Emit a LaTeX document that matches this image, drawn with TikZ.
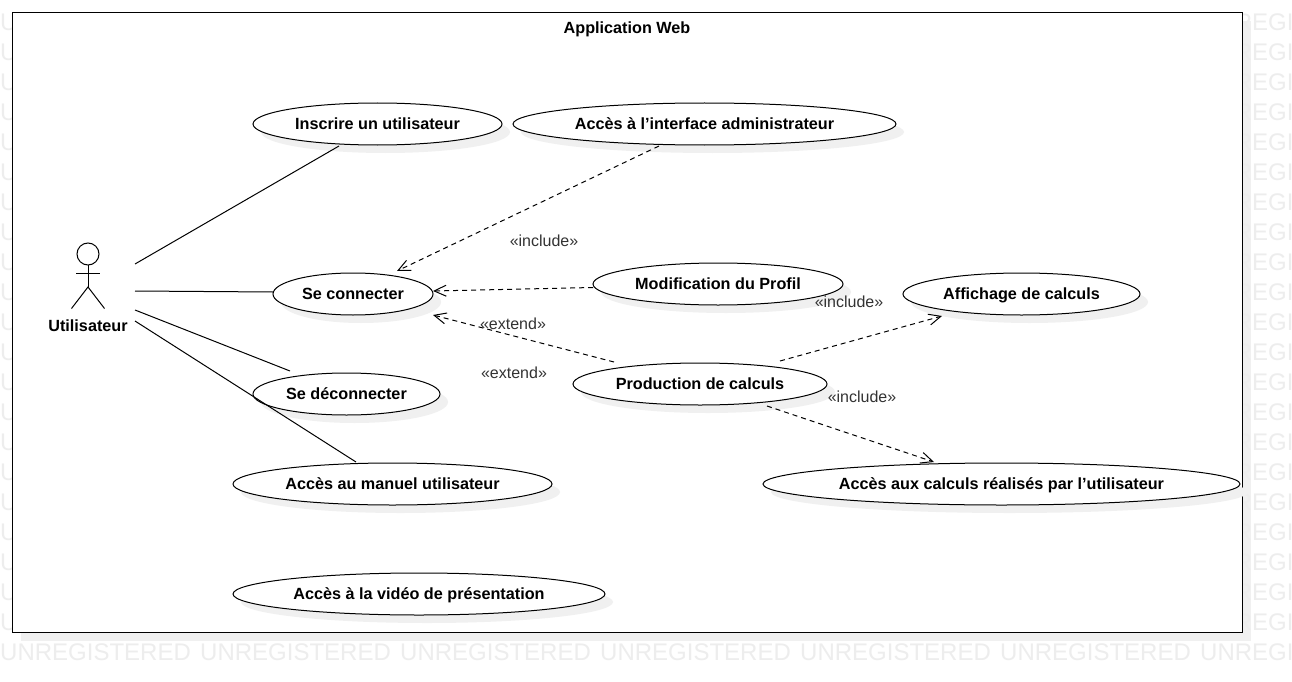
\documentclass[tikz,border=0pt]{standalone}
\usepackage{fontspec}
\setmainfont{Liberation Sans}
\usetikzlibrary{shapes.geometric,arrows.meta,calc}
\definecolor{shade}{HTML}{F0F0F0}
\definecolor{wmark}{HTML}{EDEDED}
\definecolor{lab}{HTML}{333333}
\tikzset{
  x=1pt,y=-1pt,
  wmtext/.style={anchor=base west,inner sep=0pt,text=wmark,font=\fontsize{24}{26}\selectfont},
  frameshadow/.style={fill=shade,draw=none},
  usecase/.style={ellipse,draw=black,line width=1pt,fill=white,inner sep=0pt,
    text height=10pt,text depth=0pt,
    font=\fontsize{16.2}{18}\selectfont\bfseries},
  uecshadow/.style={fill=shade,draw=none},
  assoc/.style={draw=black,line width=1pt},
  dep/.style={draw=black,line width=1pt,dash pattern=on 5pt off 4pt,
    -{Straight Barb[length=12pt,width=11pt,line width=1pt]}},
  tag/.style={text=lab,inner sep=0pt,text height=10pt,text depth=0pt,font=\fontsize{16}{18}\selectfont},
  boldtag/.style={inner sep=0pt,text height=10pt,text depth=0pt,font=\fontsize{16.2}{18}\selectfont\bfseries},
  stick/.style={draw=black,line width=1pt}
}
\newcommand{\usecasenode}[6]{% name, x1, y1, x2, y2, text
  \fill[uecshadow] ({(#2+#4)/2+8},{(#3+#5)/2+8}) ellipse [x radius={(#4-#2)/2},y radius={(#5-#3)/2}];
  \node[usecase,minimum width={(#4-#2)*1pt},minimum height={(#5-#3)*1pt}] (#1) at ({(#2+#4)/2},{(#3+#5)/2}) {#6};
}
\begin{document}
\begin{tikzpicture}
\useasboundingbox (0,0) rectangle (1292,682);
\fill[white] (0,0) rectangle (1292,682);
% frame shadow below the watermark
\fill[frameshadow] (21,21) rectangle (1251,640.7);
% watermark
\begin{scope}
\clip (0,0) rectangle (1292,682);
\foreach \r in {0,...,21} {
  \foreach \c in {0,...,6} {
    \node[wmtext] (wm-\r-\c) at ({\c*200},{30.7+\r*30}) {UNREGISTERED};
  }
}
\end{scope}
% frame
\node[draw=black,line width=1.2pt,fill=white,outer sep=0pt,minimum width=1230.4pt,minimum height=620pt,inner sep=0pt,anchor=north west] (frame) at (12.3,12.3) {};
\node[boldtag] (title) at (627,28.5) {Application Web};
% use cases
\usecasenode{ins}{253}{103}{502}{145}{Inscrire un utilisateur}
\usecasenode{admin}{513}{103}{896}{145}{Accès à l’interface administrateur}
\usecasenode{conn}{273}{273}{433}{315}{Se connecter}
\usecasenode{modif}{593}{263}{843}{305}{Modification du Profil}
\usecasenode{affi}{903}{273}{1140}{315}{Affichage de calculs}
\usecasenode{prod}{573}{363}{827}{405}{Production de calculs}
\usecasenode{deco}{253}{373}{440}{415}{Se déconnecter}
\usecasenode{manuel}{233}{463}{552}{505}{Accès au manuel utilisateur}
\usecasenode{calc}{763}{463}{1240}{505}{Accès aux calculs réalisés par l’utilisateur}
\usecasenode{video}{233}{573}{605}{615}{Accès à la vidéo de présentation}
% actor
\node[boldtag] (actor) at (88,326) {Utilisateur};
\draw[stick] ($(actor.center)+(0,-72)$) circle [radius=11];
\draw[stick] ($(actor.center)+(0,-61)$) -- ($(actor.center)+(0,-39)$);
\draw[stick] ($(actor.center)+(-12,-53)$) -- ($(actor.center)+(12,-53)$);
\draw[stick] ($(actor.center)+(-16.5,-17.5)$) -- ($(actor.center)+(0,-39)$) -- ($(actor.center)+(16.5,-17.5)$);
% associations
\draw[assoc] ($(actor.center)+(47,-62)$) -- ($(ins.center)+(-38.5,22)$);
\draw[assoc] ($(actor.center)+(47,-35)$) -- ($(conn.center)+(-80,-2)$);
\draw[assoc] ($(actor.center)+(47,-16)$) -- ($(deco.center)+(-56.5,-23)$);
\draw[assoc] ($(actor.center)+(47,-5)$) -- ($(manuel.center)+(-36.5,-22)$);
% dependencies
\draw[dep] ($(admin.center)+(-45.5,22)$) -- ($(conn.center)+(44,-23)$);
\draw[dep] ($(modif.center)+(-125,3.5)$) -- ($(conn.center)+(80,-3)$);
\draw[dep] ($(prod.center)+(-86,-22)$) -- ($(conn.center)+(80,21)$);
\draw[dep] ($(prod.center)+(80,-23)$) -- ($(affi.center)+(-79.5,22)$);
\draw[dep] ($(prod.center)+(67,22)$) -- ($(calc.center)+(-67.5,-22)$);
% labels
\node[tag] (t1) at (544,241) {«include»};
\node[tag] (t2) at (849,302) {«include»};
\node[tag] (t3) at (862,397) {«include»};
\node[tag] (t4) at (513,324) {«extend»};
\node[tag] (t5) at (514,373) {«extend»};
\end{tikzpicture}
\end{document}
